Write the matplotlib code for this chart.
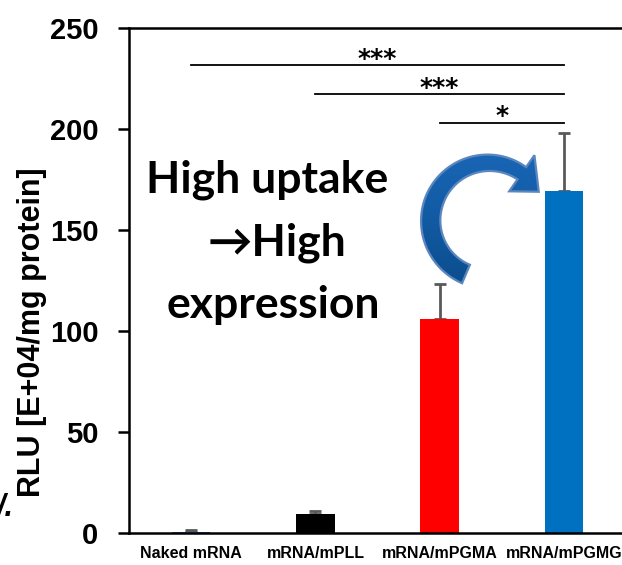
import numpy as np
import matplotlib
matplotlib.use("Agg")
import matplotlib.pyplot as plt
from matplotlib.patches import Polygon
from matplotlib.colors import LinearSegmentedColormap

# ---- data ----
categories = ["Naked mRNA", "mRNA/mPLL", "mRNA/mPGMA", "mRNA/mPGMG"]
rlu_mean = [0.6, 9.4, 106.0, 169.0]
rlu_err = [1.0, 1.6, 17.0, 29.0]
bar_colors = ["#4472C4", "#000000", "#FF0000", "#0070C0"]
yticks = [0, 50, 100, 150, 200, 250]

# significance brackets: (from index, to index, height, label)
sig_from = [0, 1, 2]
sig_to = [3, 3, 3]
sig_y = [231.5, 217.0, 203.0]
sig_text = ["***", "***", "*"]

W, H = 622, 565
fig = plt.figure(figsize=(W / 100, H / 100), dpi=100)
ax = fig.add_axes([129 / W, (H - 533) / H, 497 / W, (533 - 27.7) / H])

x = np.arange(len(categories))
ax.bar(x, rlu_mean, width=0.31, color=bar_colors, zorder=2)
ax.errorbar(x, rlu_mean, yerr=[np.zeros(len(x)), rlu_err], fmt="none",
            ecolor="#595959", elinewidth=2, capsize=4.5, capthick=2, zorder=1)

ax.set_xlim(-0.5, 3.5)
ax.set_ylim(0, 250)
ax.set_yticks(yticks)
ax.set_yticklabels([str(v) for v in yticks], fontsize=21,
                   fontweight="bold", family="Liberation Sans")
ax.set_xticks(x)
ax.set_xticklabels(categories, fontsize=11.5, fontweight="bold",
                   family="Liberation Sans")
ax.tick_params(axis="y", direction="out", length=8, width=1.8, pad=14)
ax.tick_params(axis="x", length=0, pad=9)
for side in ["left", "bottom", "top"]:
    ax.spines[side].set_linewidth(1.8)
ax.spines["right"].set_visible(False)

# significance lines
for a, b, yv, t in zip(sig_from, sig_to, sig_y, sig_text):
    ax.plot([x[a], x[b]], [yv, yv], color="black", lw=1.3, zorder=3)
    ax.text((x[a] + x[b]) / 2, yv - 0.3, t, ha="center", va="baseline",
            fontsize=18, fontweight="bold", family="DejaVu Sans")

# annotation text, one line at a time
note_lines = ["High uptake", "\u2192High", "expression"]
note_x = [0.615, 0.69, 0.66]
note_y = [168.7, 137.5, 106.4]
for s, nx, ny in zip(note_lines, note_x, note_y):
    ax.text(nx, ny, s, ha="center", va="baseline", fontsize=32,
            fontweight="bold", family=["Lato", "DejaVu Sans"], zorder=4)

# y label
fig.text(32 / W, 1 - 332 / H, "RLU [E+04/mg protein]", rotation=90,
         ha="center", va="center", fontsize=22, fontweight="bold",
         family="Liberation Sans")

# fragment at the left margin
fig.text(13 / W, 1 - 516 / H, "/.", ha="right", va="baseline", fontsize=22,
         fontweight="bold", fontstyle="italic", family="Liberation Sans")

# curved block arrow drawn in pixel space, filled with a vertical gradient
ov = fig.add_axes([0, 0, 1, 1], zorder=5)
ov.set_xlim(0, W)
ov.set_ylim(H, 0)
ov.axis("off")
cx, cy, r = 488.6, 220.7, 57.9
t_tail, t_base, t_tip = np.deg2rad(113), np.deg2rad(305), np.deg2rad(330)
hh = 22.0
th = np.linspace(t_tail, t_base, 100)
# shaft slightly thicker along the lower-left part
hw = np.interp(th, [t_tail, np.deg2rad(200), t_base], [10.0, 9.5, 7.5])
outer = np.c_[cx + (r + hw) * np.cos(th), cy + (r + hw) * np.sin(th)]
inner = np.c_[cx + (r - hw) * np.cos(th), cy + (r - hw) * np.sin(th)][::-1]
head = np.array([
    [cx + (r + hh) * np.cos(t_base), cy + (r + hh) * np.sin(t_base)],
    [cx + r * np.cos(t_tip), cy + r * np.sin(t_tip)],
    [cx + (r - hh) * np.cos(t_base), cy + (r - hh) * np.sin(t_base)],
])
pts = np.vstack([outer, head, inner])
shape = Polygon(pts, closed=True, facecolor="none", edgecolor="#5B86BE",
                lw=1.6, zorder=6)
ov.add_patch(shape)
grad = LinearSegmentedColormap.from_list("arrowfill", ["#1966B6", "#0B4E8F"])
x0, x1 = pts[:, 0].min() - 2, pts[:, 0].max() + 2
y0, y1 = pts[:, 1].min() - 2, pts[:, 1].max() + 2
img = ov.imshow(np.linspace(0, 1, 64)[:, None], cmap=grad, aspect="auto",
                extent=[x0, x1, y1, y0], origin="upper", zorder=5,
                interpolation="bilinear")
img.set_clip_path(shape)
ov.set_xlim(0, W)
ov.set_ylim(H, 0)

fig.savefig("out.png", dpi=100)
